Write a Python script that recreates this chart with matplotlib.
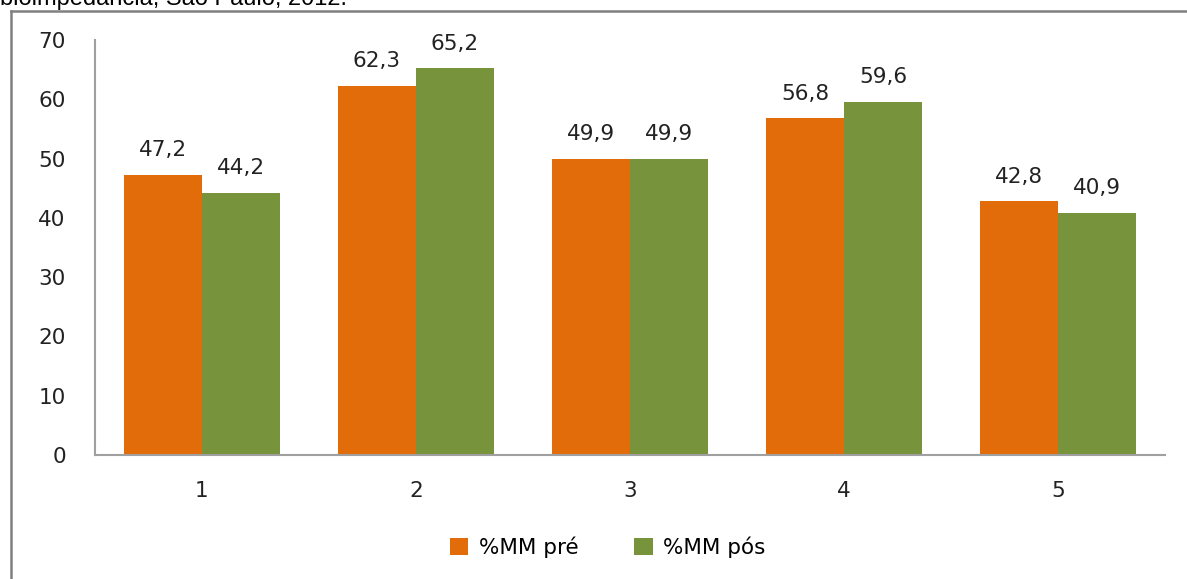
import matplotlib.pyplot as plt
from matplotlib.lines import Line2D
import numpy as np

categories = ['1', '2', '3', '4', '5']
mm_pre = [47.2, 62.3, 49.9, 56.8, 42.8]
mm_pos = [44.2, 65.2, 49.9, 59.6, 40.9]
series_names = ['%MM pré', '%MM pós']
colors = ['#E36C0A', '#77933C']

plt.rcParams['font.family'] = ['DejaVu Sans']
fs = 15.5

fig = plt.figure(figsize=(11.87, 5.79), dpi=100)
ax = fig.add_axes([0.080, 0.2142, 0.9015, 0.7167])

x = np.arange(len(categories))
w = 0.365
bars_pre = ax.bar(x - w / 2, mm_pre, w, color=colors[0], label=series_names[0])
bars_pos = ax.bar(x + w / 2, mm_pos, w, color=colors[1], label=series_names[1])

for bars in (bars_pre, bars_pos):
    for b in bars:
        v = b.get_height()
        ax.annotate(f'{v:.1f}'.replace('.', ','),
                    (b.get_x() + b.get_width() / 2, v),
                    xytext=(0, 13.5), textcoords='offset points',
                    ha='center', va='baseline', fontsize=fs, color='#222222')

ax.set_xlim(-0.5, len(categories) - 0.5)
ax.set_ylim(0, 70)
ax.set_yticks(range(0, 71, 10))
ax.set_xticks(x)
ax.set_xticklabels(categories)
ax.tick_params(axis='both', length=0, labelsize=fs, colors='#222222')
ax.tick_params(axis='y', pad=21)
ax.tick_params(axis='x', pad=19)
for s in ('top', 'right'):
    ax.spines[s].set_visible(False)
for s in ('left', 'bottom'):
    ax.spines[s].set_color('#A0A0A0')
    ax.spines[s].set_linewidth(1.5)

fig.legend(loc='center', bbox_to_anchor=(0.512, 0.055), ncol=2, frameon=False,
           fontsize=fs, handlelength=0.85, handleheight=0.85, handletextpad=0.5,
           columnspacing=2.6)

# outer frame of the original chart
fig.add_artist(Line2D([11 / 1187, 11 / 1187], [0, 1 - 11 / 579],
                      transform=fig.transFigure, color='#808080', lw=1.8))
fig.add_artist(Line2D([11 / 1187, 1], [1 - 11 / 579, 1 - 11 / 579],
                      transform=fig.transFigure, color='#808080', lw=1.8))

fig.text(0.0, 1 - 5 / 579, 'bioimpedância, São Paulo, 2012.',
         family='Liberation Sans', fontsize=17, va='baseline', ha='left')

fig.savefig('out.png', dpi=100)
